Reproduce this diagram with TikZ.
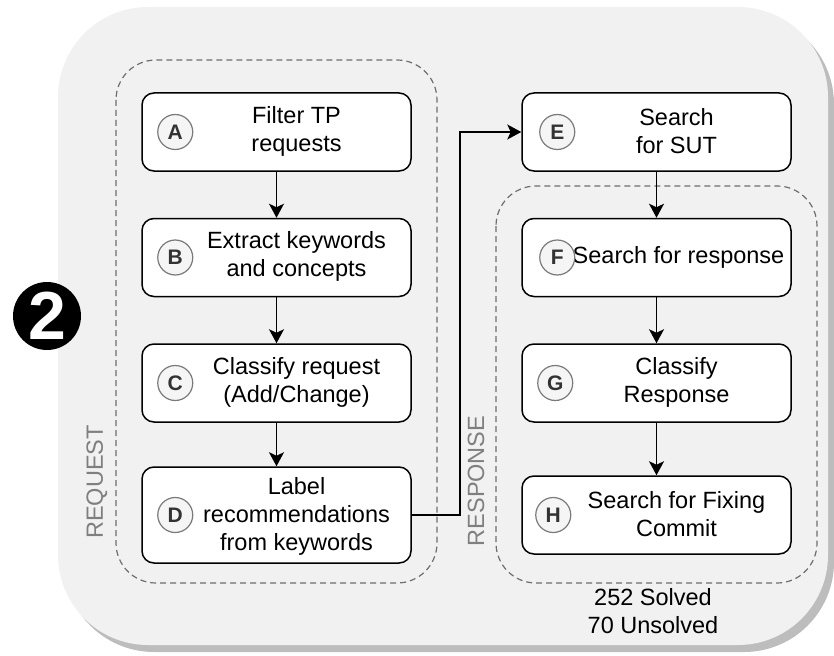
\documentclass[tikz,border=0pt]{standalone}
\usepackage{fontspec}
\setmainfont{Liberation Sans}
\usetikzlibrary{arrows.meta}
\definecolor{panelfill}{HTML}{F1F1F1}
\definecolor{panelshadow}{HTML}{BDBDBD}
\definecolor{groupline}{HTML}{6E6E6E}
\definecolor{grouplabel}{HTML}{7F7F7F}
\definecolor{badgeline}{HTML}{7A7A7A}
\definecolor{badgetext}{HTML}{333333}
\tikzset{
  stepbox/.style={draw=black, line width=1.5pt, fill=white, rounded corners=12pt,
    minimum width=269pt, minimum height=78pt, inner sep=0pt},
  steptext/.style={align=center, font=\fontsize{23.5}{28}\selectfont, inner sep=0pt},
  badge/.style={circle, draw=badgeline, line width=1.2pt, fill=white!96!black,
    minimum size=35pt, inner sep=0pt, text=badgetext,
    font=\fontsize{21}{21}\selectfont\bfseries},
  groupbox/.style={draw=groupline, line width=1.2pt, dash pattern=on 6pt off 4pt,
    rounded corners=40pt},
  grouptitle/.style={rotate=90, text=grouplabel, font=\fontsize{23.5}{28}\selectfont, inner sep=0pt},
  arr/.style={draw=black, line width=1.5pt, -{Stealth[length=14pt, width=15pt, inset=3.5pt]}}
}
\begin{document}
\begin{tikzpicture}[x=1pt, y=-1pt]
  \useasboundingbox (0,0) rectangle (834,655);

  % outer panel with drop shadow
  \fill[panelshadow, rounded corners=90pt] (64,14) rectangle (834,652);
  \fill[panelfill, rounded corners=90pt] (58,7) rectangle (828,645);

  % stage marker
  \node[circle, fill=black, minimum size=68pt, inner sep=0pt] (stage) at (47,316) {};
  \node[text=white, font=\fontsize{68}{68}\selectfont\bfseries, inner sep=0pt] (stagenum) at (stage.center) {2};

  % groups
  \draw[groupbox] (116,60) rectangle (437,583);
  \draw[groupbox] (496,186) rectangle (817,583);
  \node[grouptitle] (reqlabel) at (97,482) {REQUEST};
  \node[grouptitle] (reslabel) at (476,481) {RESPONSE};

  % request steps
  \node[stepbox] (A) at (276.5,132) {};
  \node[stepbox] (B) at (276.5,257.5) {};
  \node[stepbox] (C) at (276.5,383) {};
  \node[stepbox, minimum height=96pt] (D) at (276.5,515) {};

  % response steps
  \node[stepbox] (E) at (656.5,132) {};
  \node[stepbox] (F) at (656.5,257.5) {};
  \node[stepbox] (G) at (656.5,383) {};
  \node[stepbox] (H) at (656.5,515) {};

  % step texts
  \node[steptext] (tA) at ([xshift=20pt,yshift=1pt]A.center) {Filter TP\\requests};
  \node[steptext] (tB) at ([xshift=20pt,yshift=1pt]B.center) {Extract keywords\\and concepts};
  \node[steptext] (tC) at ([xshift=20pt,yshift=1pt]C.center) {Classify request\\(Add/Change)};
  \node[steptext] (tD) at ([xshift=20pt,yshift=-1pt]D.center) {Label\\recommendations\\from keywords};
  \node[steptext] (tE) at ([xshift=20pt,yshift=1pt]E.center) {Search\\for SUT};
  \node[steptext] (tF) at ([xshift=22pt]F.center) {Search for response};
  \node[steptext] (tG) at ([xshift=20pt,yshift=1pt]G.center) {Classify\\Response};
  \node[steptext] (tH) at ([xshift=20pt,yshift=1pt]H.center) {Search for Fixing\\Commit};

  % badges, drawn over the texts
  \node[badge] (bA) at ([xshift=34pt]A.west) {A};
  \node[badge] (bB) at ([xshift=34pt]B.west) {B};
  \node[badge] (bC) at ([xshift=34pt]C.west) {C};
  \node[badge] (bD) at ([xshift=34pt]D.west) {D};
  \node[badge] (bE) at ([xshift=36pt]E.west) {E};
  \node[badge] (bF) at ([xshift=36pt]F.west) {F};
  \node[badge] (bG) at ([xshift=34pt]G.west) {G};
  \node[badge] (bH) at ([xshift=32pt]H.west) {H};

  % result counts
  \node[steptext] (result) at (653,611) {252 Solved\\70 Unsolved};

  % connectors
  \draw[arr] (A) -- (B);
  \draw[arr] (B) -- (C);
  \draw[arr] (C) -- (D);
  \draw[arr] (D.east) -- ++(48,0) |- (E.west);
  \draw[arr] (E) -- (F);
  \draw[arr] (F) -- (G);
  \draw[arr] (G) -- (H);
\end{tikzpicture}
\end{document}
